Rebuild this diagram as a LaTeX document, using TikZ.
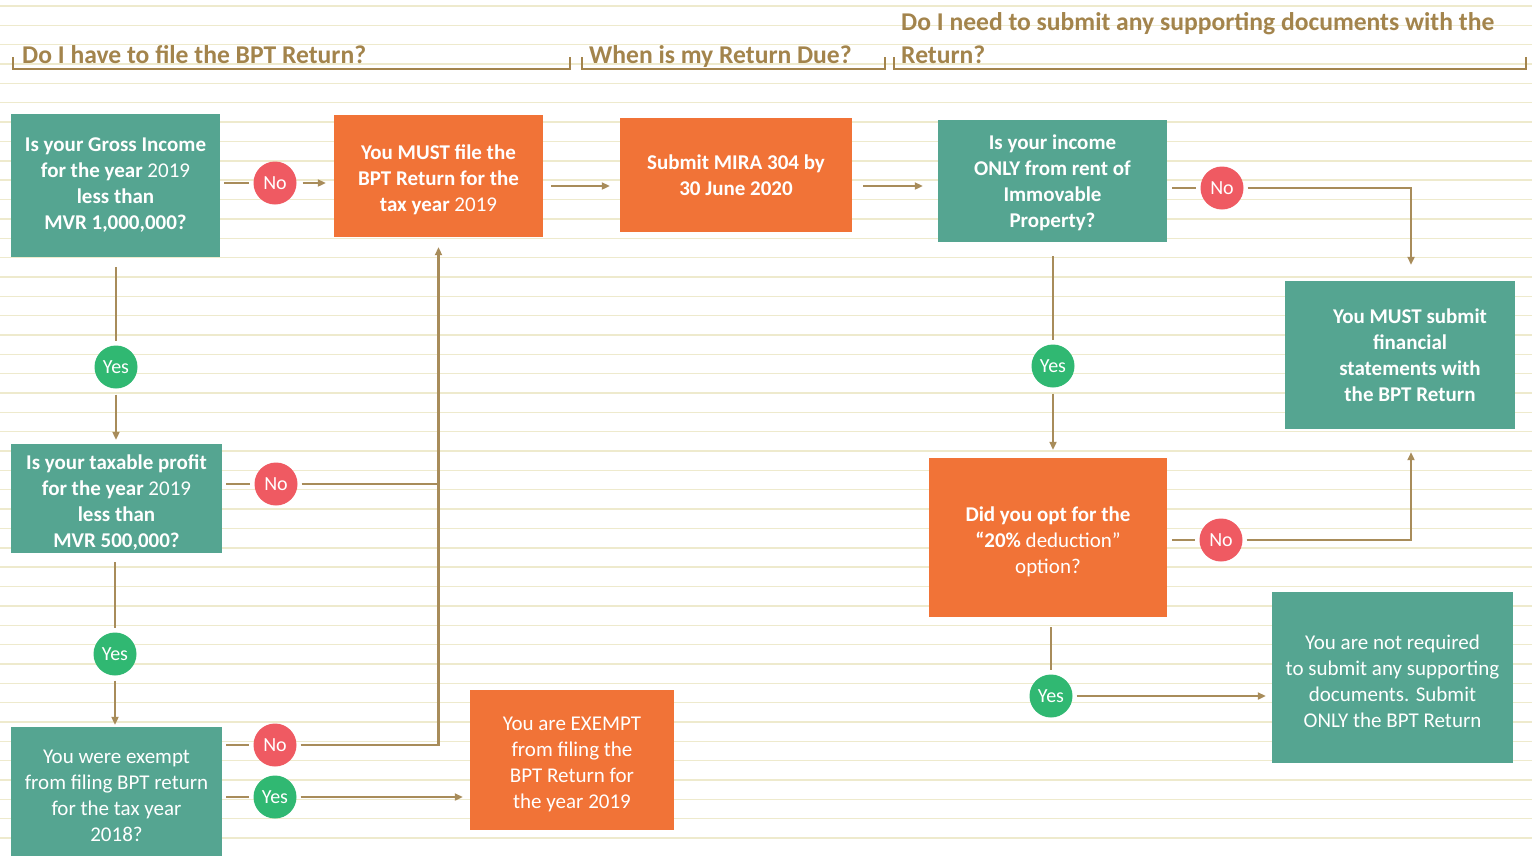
\documentclass[tikz,border=0pt]{standalone}
\usepackage{fontspec}
\setmainfont{Carlito}
\usetikzlibrary{arrows.meta}
\definecolor{tealbox}{HTML}{55A591}
\definecolor{orangebox}{HTML}{F17337}
\definecolor{nored}{HTML}{EF5A62}
\definecolor{yesgreen}{HTML}{30B872}
\definecolor{linec}{HTML}{A88C5A}
\definecolor{headc}{HTML}{A3844C}
\definecolor{bgline}{HTML}{EEEACD}
\newcommand{\mytopstrut}{\rule{0pt}{23pt}}
\newcommand{\mymidstrut}{\rule{0pt}{19pt}}
\tikzset{
  box/.style={inner sep=0pt, align=center, text=white, font=\fontsize{21}{26}\selectfont},
  tbox/.style={box, fill=tealbox},
  obox/.style={box, fill=orangebox},
  nocirc/.style={circle, fill=nored, minimum size=43pt, inner sep=0pt, text=white, font=\fontsize{20}{24}\selectfont},
  yescirc/.style={circle, fill=yesgreen, minimum size=43pt, inner sep=0pt, text=white, font=\fontsize{20}{24}\selectfont},
  conn/.style={draw=linec, line width=2.2pt},
  arr/.style={conn, -{Triangle[length=8pt,width=7pt]}},
  headtext/.style={text=headc, font=\bfseries\fontsize{25.6}{33}\selectfont, inner sep=0pt},
  bracket/.style={draw=headc, line width=2.4pt},
}
\begin{document}
\begin{tikzpicture}[x=1pt,y=-1pt]
\useasboundingbox (0,0) rectangle (1532,855);
\fill[white] (0,0) rectangle (1532,855);
\foreach \k in {0,...,44}{
  \pgfmathsetmacro{\yy}{6+19.35*\k}
  \draw[bgline, line width=1.4pt] (0,\yy) -- (1532,\yy);
}

% headers
\node[headtext, anchor=base west] (h1) at (22,63) {Do I have to file the BPT Return?};
\node[headtext, anchor=base west] (h2) at (589,63) {When is my Return Due?};
\node[headtext, anchor=base west] (h3a) at (901,30) {Do I need to submit any supporting documents with the};
\node[headtext, anchor=base west] (h3b) at (901,63) {Return?};
\draw[bracket] (13,57) -- (13,69) -- (570,69) -- (570,57);
\draw[bracket] (582,57) -- (582,69) -- (885,69) -- (885,57);
\draw[bracket] (894,57) -- (894,69) -- (1526,69) -- (1526,57);

% boxes
\node[tbox, minimum width=209pt, minimum height=143pt] (A) at (115.5,185.5)
  {\bfseries Is your Gross Income\\ \bfseries for the year \mdseries 2019\\ \bfseries less than\\ \bfseries MVR 1,000,000?};
\node[obox, minimum width=209pt, minimum height=122pt] (B) at (438.5,176)
  {\mytopstrut\bfseries You MUST file the\\ \bfseries BPT Return for the\\ \bfseries tax year \mdseries 2019};
\node[obox, minimum width=232pt, minimum height=114pt] (C) at (736,175)
  {\bfseries Submit MIRA 304 by\\ \bfseries 30 June 2020};
\node[tbox, minimum width=229pt, minimum height=122pt] (D) at (1052.5,181)
  {\mymidstrut\bfseries Is your income\\ \bfseries ONLY from rent of\\ \bfseries Immovable\\ \bfseries Property?};
\node[tbox, minimum width=230pt, minimum height=148pt] (E) at (1400,355)
  {\bfseries\hspace*{20pt}You MUST submit\\ \bfseries\hspace*{20pt}financial\\ \bfseries\hspace*{20pt}statements with\\ \bfseries\hspace*{20pt}the BPT Return};
\node[tbox, minimum width=211pt, minimum height=109pt] (F) at (116.5,498.5)
  {\mytopstrut\bfseries Is your taxable profit\\ \bfseries for the year \mdseries 2019\\ \bfseries less than\\ \bfseries MVR 500,000?};
\node[tbox, minimum width=211pt, minimum height=129pt] (G) at (116.5,791.5)
  {\mytopstrut You were exempt\\ from filing BPT return\\ for the tax year\\ 2018?};
\node[obox, minimum width=204pt, minimum height=140pt] (H) at (572,760)
  {\mytopstrut You are EXEMPT\\ from filing the\\ BPT Return for\\ the year 2019};
\node[obox, minimum width=238pt, minimum height=159pt] (I) at (1048,537.5)
  {\mytopstrut\bfseries Did you opt for the\\ \bfseries “20\% \mdseries deduction”\\ option?};
\node[tbox, minimum width=241pt, minimum height=171pt] (J) at (1392.5,677.5)
  {\mytopstrut You are not required\\ to submit any supporting\\ documents. Submit\\ ONLY the BPT Return};

% circles
\node[nocirc] (No1) at (275,183) {No};
\node[yescirc] (Yes1) at (116,367) {Yes};
\node[nocirc] (No2) at (276,484) {No};
\node[yescirc] (Yes2) at (115,654) {Yes};
\node[nocirc] (No3) at (275,745) {No};
\node[yescirc] (Yes3) at (275,797) {Yes};
\node[nocirc] (No4) at (1222,188) {No};
\node[yescirc] (Yes4) at (1053,366) {Yes};
\node[nocirc] (No5) at (1221,540) {No};
\node[yescirc] (Yes5) at (1051,696) {Yes};

% connectors, top row
\draw[conn, shorten <=4pt, shorten >=4pt] (A.east |- No1) -- (No1.west);
\draw[arr, shorten <=6pt, shorten >=8pt] (No1.east) -- (B.west |- No1);
\draw[arr, shorten <=8pt, shorten >=10pt] ([yshift=-10pt]B.east) -- ([yshift=-10pt]B.east -| C.west);
\draw[arr, shorten <=11pt, shorten >=15pt] ([yshift=-11pt]C.east) -- ([yshift=-11pt]C.east -| D.west);

% left column
\draw[conn, shorten <=10pt, shorten >=4pt] (A.south -| Yes1) -- (Yes1.north);
\draw[arr, shorten <=6pt, shorten >=4pt] (Yes1.south) -- (Yes1.south |- F.north);
\draw[conn, shorten <=4pt, shorten >=4pt] (F.east |- No2) -- (No2.west);
\draw[conn, shorten <=4pt] (No2.east) -- (No2.east -| B.south);
\draw[conn, shorten <=9pt, shorten >=4pt] (F.south -| Yes2) -- (Yes2.north);
\draw[arr, shorten <=5pt, shorten >=2pt] (Yes2.south) -- (Yes2.south |- G.north);
\draw[conn, shorten <=4pt, shorten >=4pt] (G.east |- No3) -- (No3.west);
\draw[arr, shorten <=4pt, shorten >=10pt] (No3.east) -| (B.south);
\draw[conn, shorten <=4pt, shorten >=4pt] (G.east |- Yes3) -- (Yes3.west);
\draw[arr, shorten <=4pt, shorten >=7pt] (Yes3.east) -- (Yes3.east -| H.west);

% right part
\draw[conn, shorten <=5pt, shorten >=4pt] (D.east |- No4) -- (No4.west);
\draw[arr, shorten <=4pt, shorten >=16pt] (No4.east) -| ([xshift=11pt]E.north);
\draw[conn, shorten <=14pt, shorten >=4pt] (D.south -| Yes4) -- (Yes4.north);
\draw[arr, shorten <=6pt, shorten >=8pt] (Yes4.south) -- (Yes4.south |- I.north);
\draw[conn, shorten <=5pt, shorten >=4pt] (I.east |- No5) -- (No5.west);
\draw[arr, shorten <=4pt, shorten >=23pt] (No5.east) -| ([xshift=11pt]E.south);
\draw[conn, shorten <=10pt, shorten >=4pt] (I.south -| Yes5) -- (Yes5.north);
\draw[arr, shorten <=4pt, shorten >=6pt] (Yes5.east) -- (Yes5.east -| J.west);
\end{tikzpicture}
\end{document}
